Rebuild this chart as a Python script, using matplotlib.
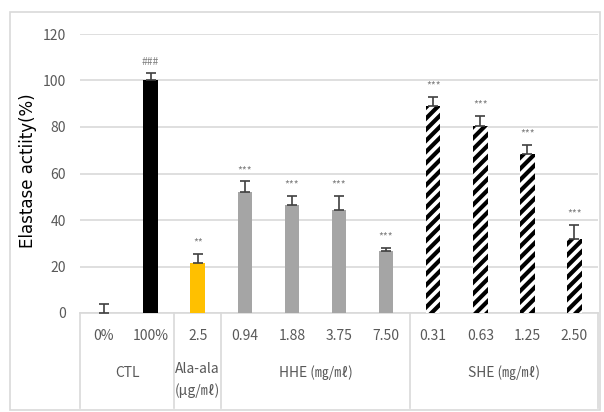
import numpy as np
import matplotlib.pyplot as plt
import matplotlib.transforms as mtransforms

plt.rcParams['font.family'] = ['Noto Sans CJK KR', 'DejaVu Sans']
plt.rcParams['hatch.linewidth'] = 3.0

# data
labels = ['0%', '100%', '2.5', '0.94', '1.88', '3.75', '7.50', '0.31', '0.63', '1.25', '2.50']
values = [0, 100, 21.5, 52, 46.3, 44.3, 26.7, 89, 80.4, 68.2, 31.7]
errors = [3.9, 3.2, 4.0, 4.6, 4.2, 6.0, 1.4, 4.0, 4.5, 4.2, 6.3]
marks = ['', '###', '**', '***', '***', '***', '***', '***', '***', '***', '***']
kinds = ['ctl', 'ctl', 'ala', 'hhe', 'hhe', 'hhe', 'hhe', 'she', 'she', 'she', 'she']
groups = ['CTL', 'Ala-ala\n(μg/㎖)', 'HHE (㎎/㎖)', 'SHE (㎎/㎖)']
group_spans = [(0, 1), (2, 2), (3, 6), (7, 10)]

fill = {'ctl': 'black', 'ala': '#FFC000', 'hhe': '#A5A5A5', 'she': 'white'}
txt = '#595959'
grid_c = '#D9D9D9'

fig = plt.figure(figsize=(6.04, 4.12), dpi=100)
ax = fig.add_axes([80 / 604, 99 / 412, 518 / 604, 279 / 412])

# outer chart frame
fig.patches.append(plt.Rectangle((10 / 604, 2 / 412), 590 / 604, 398 / 412,
                                 transform=fig.transFigure, fill=False,
                                 edgecolor='#D9D9D9', linewidth=1.2))

x = np.arange(len(labels))
for i in x:
    k = kinds[i]
    ax.bar(i, values[i], width=0.31, color=fill[k],
           hatch='///' if k == 'she' else None,
           edgecolor='black' if k == 'she' else fill[k], linewidth=0, zorder=3)
    ax.errorbar(i, values[i], yerr=[[0], [errors[i]]], fmt='none',
                ecolor='#404040', elinewidth=1.2, capsize=3.5, capthick=1.2, zorder=4)
    if marks[i]:
        ax.annotate(marks[i], (i, values[i] + errors[i]), xytext=(0, 8),
                    textcoords='offset points', ha='center', va='center',
                    fontsize=7.5, color='#7F7F7F')

ax.set_xlim(-0.5, len(labels) - 0.5)
ax.set_ylim(0, 120)
ax.set_yticks(range(0, 121, 20))
ax.tick_params(axis='y', length=0, pad=10, labelsize=10, labelcolor=txt)
ax.set_xticks([])
ax.yaxis.grid(True, color=grid_c, linewidth=1.2, zorder=0)
ax.set_axisbelow(True)
for s in ['top', 'right', 'left']:
    ax.spines[s].set_visible(False)
ax.spines['bottom'].set_color(grid_c)
ax.spines['bottom'].set_linewidth(1.2)
ax.set_ylabel('Elastase actiity(%)', fontsize=12, color='black',
              family=['DejaVu Sans'])
ax.yaxis.set_label_coords((37 - 80) / 518, 0.51)

# category table under the axis
tr = mtransforms.blended_transform_factory(ax.transData, ax.transAxes)
for b in [-0.5, 1.5, 2.5, 6.5, 10.5]:
    ax.plot([b, b], [0, -0.34], transform=tr, color=grid_c, linewidth=1.2, clip_on=False)
for i in x:
    ax.text(i, -0.082, labels[i], transform=tr, ha='center', va='center',
            fontsize=10, color=txt)
for g, (a, b) in zip(groups, group_spans):
    yy = -0.24 if '\n' in g else -0.215
    ax.text((a + b) / 2, yy, g, transform=tr, ha='center', va='center',
            fontsize=10, color=txt, linespacing=1.6)

fig.savefig('out.png', dpi=100)
